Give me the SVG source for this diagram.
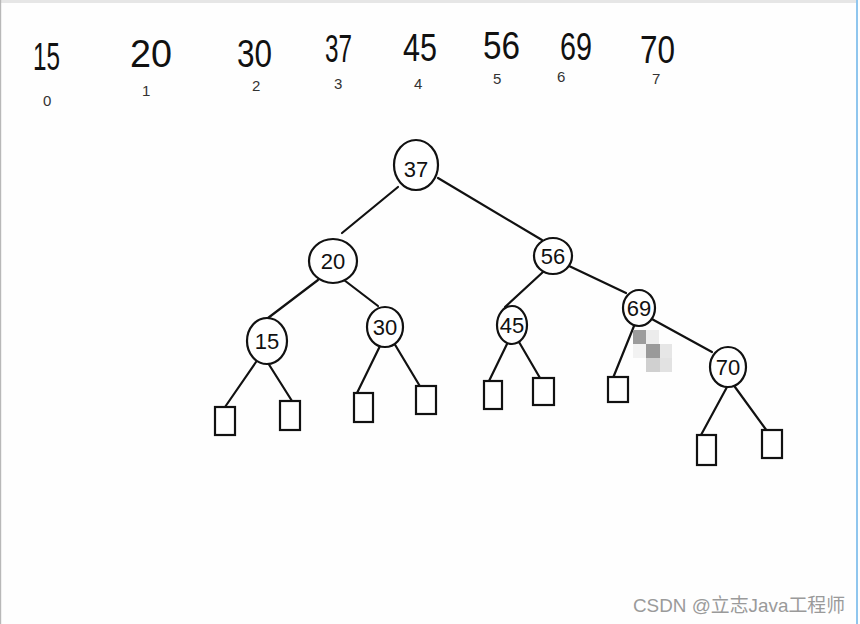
<svg xmlns="http://www.w3.org/2000/svg" width="860" height="624" viewBox="0 0 860 624">
<style>
.num{font-family:"Liberation Sans Narrow","Liberation Sans",sans-serif;fill:#111;}
.top{font-size:38px;}
.idx{font-size:15px;fill:#333;}
.lbl{font-size:22px;text-anchor:middle;}
.node{fill:#fff;stroke:#111;stroke-width:2.2;}
.leaf{fill:#fff;stroke:#111;stroke-width:2.2;}
.edge{stroke:#111;stroke-width:2.2;fill:none;stroke-linecap:round;}
.wm{font-family:"Liberation Sans","Noto Sans CJK SC",sans-serif;font-size:19px;fill:#9a9a9a;}
</style>
<rect width="860" height="624" fill="#fefefe"/>
<rect x="0" y="0" width="856" height="3" fill="#e6e6e6"/>
<rect x="0" y="0" width="1.2" height="624" fill="#b8b8b8"/>
<rect x="856" y="0" width="2" height="624" fill="#8fc6ee"/>

<g id="array">
<text class="num top" x="33" y="70" textLength="27" lengthAdjust="spacingAndGlyphs">15</text>
<text class="num top" x="130" y="67" textLength="42" lengthAdjust="spacingAndGlyphs">20</text>
<text class="num top" x="237" y="67" textLength="35" lengthAdjust="spacingAndGlyphs">30</text>
<text class="num top" x="325" y="62" textLength="27" lengthAdjust="spacingAndGlyphs">37</text>
<text class="num top" x="403" y="61" textLength="34" lengthAdjust="spacingAndGlyphs">45</text>
<text class="num top" x="483" y="59" textLength="37" lengthAdjust="spacingAndGlyphs">56</text>
<text class="num top" x="560" y="60" textLength="32" lengthAdjust="spacingAndGlyphs">69</text>
<text class="num top" x="640" y="63" textLength="35" lengthAdjust="spacingAndGlyphs">70</text>
<text class="num idx" x="43" y="106">0</text>
<text class="num idx" x="142" y="96">1</text>
<text class="num idx" x="252" y="91">2</text>
<text class="num idx" x="334" y="89">3</text>
<text class="num idx" x="414" y="89">4</text>
<text class="num idx" x="493" y="84">5</text>
<text class="num idx" x="557" y="82">6</text>
<text class="num idx" x="652" y="84">7</text>
</g>

<g id="connectors">
<path class="edge" d="M398,187 L342,233"/>
<path class="edge" d="M438,178 L542,240"/>
<path class="edge" d="M318,280 L268,318"/>
<path class="edge" d="M344,280 L378,306"/>
<path class="edge" d="M543,272 L505,307"/>
<path class="edge" d="M567,265 L626,293"/>
<path class="edge" d="M650,318 L712,352"/>
<path class="edge" d="M634,326 L613,378"/>
<path class="edge" d="M256,362 L225,407"/>
<path class="edge" d="M268,363 L292,401"/>
<path class="edge" d="M380,346 L357,393"/>
<path class="edge" d="M394,343 L421,388"/>
<path class="edge" d="M507,344 L489,381"/>
<path class="edge" d="M519,342 L540,378"/>
<path class="edge" d="M727,387 L701,435"/>
<path class="edge" d="M735,387 L767,431"/>
</g>

<g id="n37"><ellipse class="node" cx="416" cy="165" rx="22" ry="25"/><text class="num lbl" x="416" y="177" font-size="32">37</text></g>
<g id="n20"><ellipse class="node" cx="333" cy="261" rx="24" ry="22"/><text class="num lbl" x="333" y="269">20</text></g>
<g id="n56"><ellipse class="node" cx="553" cy="256" rx="19" ry="18"/><text class="num lbl" x="553" y="264">56</text></g>
<g id="n15"><ellipse class="node" cx="267" cy="341" rx="20" ry="23"/><text class="num lbl" x="267" y="349">15</text></g>
<g id="n30"><ellipse class="node" cx="385" cy="327" rx="18" ry="20"/><text class="num lbl" x="385" y="335">30</text></g>
<g id="n45"><ellipse class="node" cx="512" cy="325" rx="15" ry="19"/><text class="num lbl" x="512" y="333" font-size="19">45</text></g>
<g id="n69"><ellipse class="node" cx="639" cy="308" rx="16" ry="18"/><text class="num lbl" x="639" y="316" font-size="20">69</text></g>
<g id="n70"><ellipse class="node" cx="728" cy="367" rx="18" ry="20"/><text class="num lbl" x="728" y="375" font-size="20">70</text></g>

<g id="leaf1"><rect class="leaf" x="215" y="407" width="20" height="28"/></g>
<g id="leaf2"><rect class="leaf" x="280" y="401" width="20" height="29"/></g>
<g id="leaf3"><rect class="leaf" x="354" y="393" width="19" height="29"/></g>
<g id="leaf4"><rect class="leaf" x="416" y="386" width="20" height="28"/></g>
<g id="leaf5"><rect class="leaf" x="484" y="381" width="18" height="28"/></g>
<g id="leaf6"><rect class="leaf" x="533" y="378" width="21" height="27"/></g>
<g id="leaf7"><rect class="leaf" x="608" y="377" width="20" height="25"/></g>
<g id="leaf8"><rect class="leaf" x="697" y="435" width="19" height="30"/></g>
<g id="leaf9"><rect class="leaf" x="762" y="430" width="20" height="28"/></g>

<g id="mosaic">
<rect x="633" y="330" width="13" height="14" fill="#9c9c9c"/>
<rect x="646" y="330" width="13" height="14" fill="#ececec"/>
<rect x="633" y="344" width="13" height="14" fill="#f2f2f2"/>
<rect x="646" y="344" width="14" height="14" fill="#9a9a9a"/>
<rect x="660" y="344" width="12" height="14" fill="#e6e6e6"/>
<rect x="646" y="358" width="14" height="14" fill="#d0d0d0"/>
<rect x="660" y="358" width="12" height="14" fill="#e2e2e2"/>
</g>

<text class="wm" x="633" y="612" textLength="212" lengthAdjust="spacingAndGlyphs">CSDN @立志Java工程师</text>
</svg>
